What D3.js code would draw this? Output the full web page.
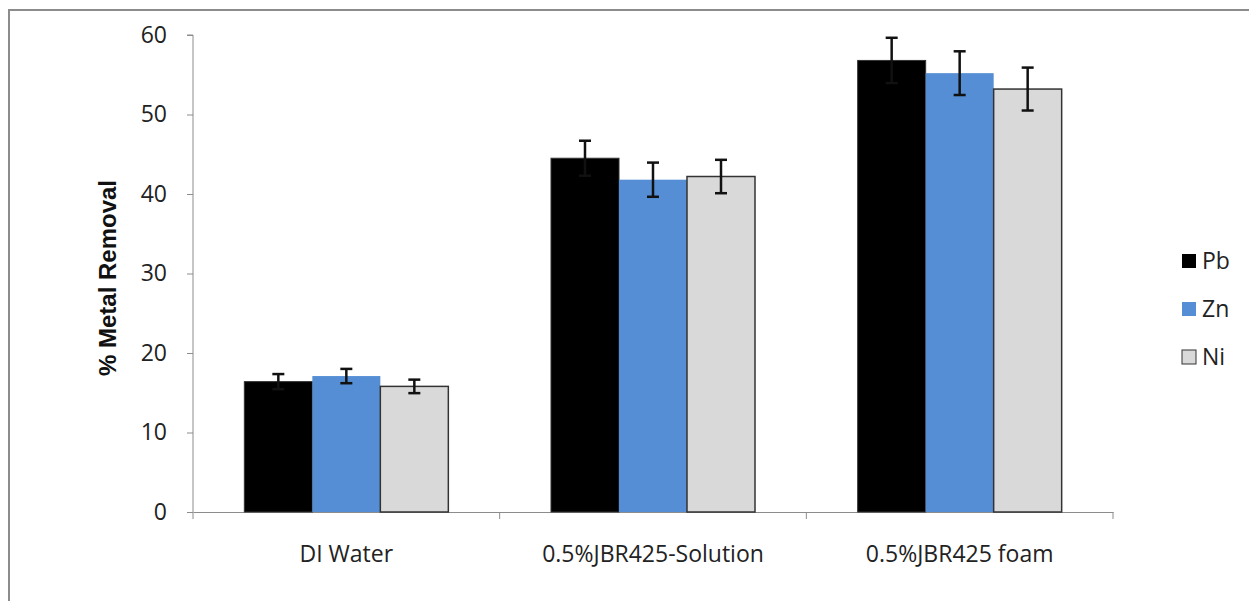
<!DOCTYPE html>
<html><head><meta charset="utf-8">
<script src="https://cdn.jsdelivr.net/npm/d3@7"></script>
<style>body{margin:0;background:#fff}svg{display:block}text{font-family:"Open Sans",Lato,sans-serif}</style>
</head><body>
<script>
const categories = ["DI Water", "0.5%JBR425-Solution", "0.5%JBR425 foam"];
const seriesNames = ["Pb", "Zn", "Ni"];
const pbValues = [16.4, 44.5, 56.8];
const znValues = [17.1, 41.8, 55.2];
const niValues = [15.8, 42.2, 53.2];
const pbErrors = [0.95, 2.2, 2.85];
const znErrors = [0.9, 2.15, 2.75];
const niErrors = [0.85, 2.1, 2.7];
const yTicks = [0, 10, 20, 30, 40, 50, 60];
const colors = ["#000000", "#558ED5", "#D9D9D9"];

const W = 1249, H = 601;
const svg = d3.select("body").append("svg").attr("width", W).attr("height", H);
svg.append("rect").attr("x", 9).attr("y", 10).attr("width", W + 20).attr("height", H + 20)
  .attr("fill", "none").attr("stroke", "#8c8c8c").attr("stroke-width", 2);

const x0 = 193, x1 = 1113, yTop = 35, yBot = 512;
const x = d3.scaleBand().domain(categories).range([x0, x1]).paddingInner(0).paddingOuter(0);
const y = d3.scaleLinear().domain([0, 60]).range([yBot, yTop]);
const groupFrac = 204 / 306.67;
const xs = d3.scaleBand().domain(seriesNames).range([0, x.bandwidth() * groupFrac]).padding(0);
const groupOff = (x.bandwidth() - x.bandwidth() * groupFrac) / 2;

const vals = [pbValues, znValues, niValues];
const errs = [pbErrors, znErrors, niErrors];

// axes
const yAxis = svg.append("g").attr("transform", `translate(${x0},0)`)
  .call(d3.axisLeft(y).tickValues(yTicks).tickSize(6).tickPadding(20));
yAxis.select(".domain").attr("stroke", "#8c8c8c").attr("d", `M-6,${yTop}H0V${yBot}`);
yAxis.selectAll(".tick line").attr("stroke", "#8c8c8c");
yAxis.selectAll(".tick text").attr("font-size", 23).attr("fill", "#222");

const xAxis = svg.append("g").attr("transform", `translate(0,${yBot})`)
  .call(d3.axisBottom(x).tickSize(0).tickPadding(34));
xAxis.select(".domain").attr("stroke", "#8c8c8c");
xAxis.selectAll(".tick text").attr("font-size", 23).attr("fill", "#222");
const bounds = [x0].concat(categories.map(c => x(c) + x.bandwidth()));
svg.append("g").selectAll("line").data(bounds).join("line")
  .attr("x1", d => d).attr("x2", d => d).attr("y1", yBot).attr("y2", yBot + 7)
  .attr("stroke", "#8c8c8c");

// bars
seriesNames.forEach((s, si) => {
  const g = svg.append("g");
  g.selectAll("rect").data(categories).join("rect")
    .attr("x", c => x(c) + groupOff + xs(s))
    .attr("y", (c, i) => y(vals[si][i]))
    .attr("width", xs.bandwidth())
    .attr("height", (c, i) => yBot - y(vals[si][i]))
    .attr("fill", colors[si])
    .attr("stroke", si === 1 ? "none" : "#333").attr("stroke-width", si === 2 ? 1.5 : 1);
});
// error bars
seriesNames.forEach((s, si) => {
  const g = svg.append("g").attr("stroke", "#111").attr("stroke-width", 2.5);
  categories.forEach((c, i) => {
    const cx = x(c) + groupOff + xs(s) + xs.bandwidth() / 2;
    const hi = y(vals[si][i] + errs[si][i]), lo = y(vals[si][i] - errs[si][i]);
    g.append("line").attr("x1", cx).attr("x2", cx).attr("y1", hi).attr("y2", lo);
    g.append("line").attr("x1", cx - 6).attr("x2", cx + 6).attr("y1", hi).attr("y2", hi);
    g.append("line").attr("x1", cx - 6).attr("x2", cx + 6).attr("y1", lo).attr("y2", lo);
  });
});

// y title
svg.append("text").attr("transform", "translate(116,278) rotate(-90)")
  .attr("text-anchor", "middle").attr("font-size", 24).attr("font-weight", "bold").attr("fill", "#111")
  .style("font-family", "'Liberation Sans', Arial, sans-serif")
  .text("% Metal Removal");

// legend
const leg = svg.append("g");
seriesNames.forEach((s, i) => {
  const ly = 261 + i * 48;
  leg.append("rect").attr("x", 1182).attr("y", ly - 7).attr("width", 14).attr("height", 14)
    .attr("fill", colors[i]).attr("stroke", i === 2 ? "#333" : "none");
  leg.append("text").attr("x", 1202).attr("y", ly).attr("dy", "0.36em")
    .attr("font-size", 23).attr("fill", "#222").text(s);
});
</script>
</body></html>
